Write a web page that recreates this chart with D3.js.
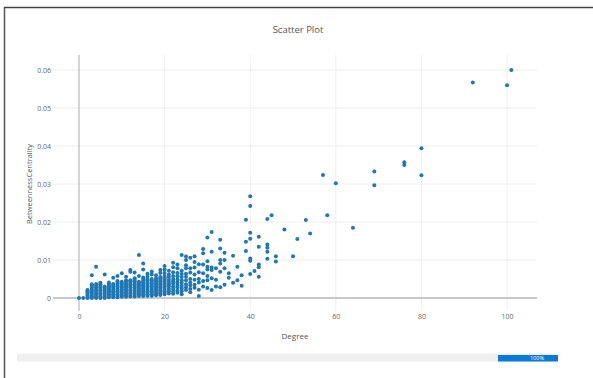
<!DOCTYPE html>
<html>
<head>
<meta charset="utf-8">
<script src="https://cdn.jsdelivr.net/npm/d3@7"></script>
<style>
  html, body { margin: 0; padding: 0; background: #fff; }
  svg { display: block; font-family: "Open Sans", "Noto Sans", sans-serif; }
</style>
</head>
<body>
<svg id="chart" width="593" height="378"></svg>
<script>
// Node degree values; each entry of centrality holds the betweenness
// centrality of every node that has that degree.
const degrees = [0, 1, 2, 3, 4, 5, 6, 7, 8, 9, 10, 11, 12, 13, 14, 15, 16, 17, 18, 19, 20,
  21, 22, 23, 24, 25, 26, 27, 28, 29, 30, 31, 32, 33, 34, 35, 36, 37, 38, 39, 40,
  41, 42, 44, 45, 46, 48, 50, 51, 53, 54, 57, 58, 60, 64, 69, 76, 80, 92, 100, 101];

const centrality = [
  [0],
  [0],
  [0, 0.0003, 0.0007, 0.0011, 0.0015, 0.0018, 0.0021],
  [0, 0.0004, 0.0008, 0.0012, 0.0016, 0.002, 0.0024, 0.0028, 0.0032, 0.0036, 0.006],
  [0, 0.0004, 0.0008, 0.0012, 0.0016, 0.002, 0.0024, 0.0028, 0.0032, 0.0037, 0.0082],
  [0, 0.0004, 0.0008, 0.0012, 0.0016, 0.002, 0.0024, 0.0028, 0.0032, 0.0036, 0.004],
  [0, 0.0004, 0.0008, 0.0012, 0.0016, 0.002, 0.0024, 0.0027, 0.003, 0.0062],
  [0.0002, 0.0006, 0.001, 0.0014, 0.0018, 0.0022, 0.0026, 0.003, 0.0034, 0.0038, 0.0041],
  [0.0002, 0.0006, 0.001, 0.0014, 0.0018, 0.0022, 0.0026, 0.003, 0.0034, 0.0037, 0.0053],
  [0.0002, 0.0006, 0.001, 0.0014, 0.0018, 0.0022, 0.0026, 0.003, 0.0034, 0.0038, 0.0042, 0.0045, 0.0058],
  [0.0003, 0.0007, 0.0011, 0.0015, 0.0019, 0.0023, 0.0027, 0.0031, 0.0035, 0.0039, 0.0043, 0.0065],
  [0.0003, 0.0007, 0.0011, 0.0015, 0.0019, 0.0023, 0.0027, 0.0031, 0.0035, 0.0039, 0.0043, 0.0047, 0.0056],
  [0.0004, 0.0008, 0.0012, 0.0016, 0.002, 0.0024, 0.0028, 0.0032, 0.0036, 0.004, 0.0044, 0.0047, 0.0069, 0.0074],
  [0.0004, 0.0008, 0.0012, 0.0016, 0.002, 0.0024, 0.0028, 0.0032, 0.0036, 0.004, 0.0044, 0.0048, 0.0052, 0.0067],
  [0.0005, 0.0009, 0.0013, 0.0017, 0.0021, 0.0025, 0.0029, 0.0033, 0.0037, 0.004, 0.0043, 0.0058, 0.0113],
  [0.0005, 0.0009, 0.0013, 0.0017, 0.0021, 0.0025, 0.0029, 0.0033, 0.0037, 0.0041, 0.0045, 0.005, 0.0054, 0.0075, 0.0091],
  [0.0006, 0.001, 0.0014, 0.0018, 0.0022, 0.0026, 0.003, 0.0034, 0.0038, 0.0042, 0.0046, 0.0049, 0.0056, 0.0064],
  [0.0006, 0.001, 0.0014, 0.0018, 0.0022, 0.0026, 0.003, 0.0034, 0.0038, 0.0042, 0.0046, 0.005, 0.0062, 0.007],
  [0.0007, 0.0011, 0.0015, 0.0019, 0.0023, 0.0027, 0.0031, 0.0035, 0.0039, 0.0043, 0.0047, 0.0052, 0.006],
  [0.0008, 0.0012, 0.0016, 0.002, 0.0024, 0.0028, 0.0032, 0.0036, 0.004, 0.0044, 0.0048, 0.0052, 0.0055, 0.0066, 0.0074],
  [0.001, 0.0014, 0.0018, 0.0022, 0.0026, 0.003, 0.0034, 0.0038, 0.0042, 0.0046, 0.005, 0.0054, 0.0058, 0.0066, 0.0075, 0.0084],
  [0.0012, 0.0018, 0.0024, 0.003, 0.0036, 0.0042, 0.0048, 0.0055, 0.0062, 0.0072],
  [0.0011, 0.0017, 0.0024, 0.003, 0.0038, 0.0044, 0.005, 0.0058, 0.0068, 0.0081, 0.0093],
  [0.0014, 0.002, 0.0028, 0.0034, 0.0041, 0.0049, 0.0057, 0.0066, 0.0078, 0.0088],
  [0.001, 0.0018, 0.0025, 0.0032, 0.004, 0.0047, 0.0055, 0.0063, 0.0072, 0.0113],
  [0.0021, 0.0028, 0.0036, 0.0047, 0.0056, 0.0064, 0.0078, 0.0086, 0.01, 0.0109],
  [0.0015, 0.0024, 0.0033, 0.0041, 0.005, 0.0067, 0.0078, 0.0106],
  [0.0027, 0.0035, 0.0048, 0.0062, 0.008, 0.0095, 0.011],
  [0.0005, 0.0022, 0.0041, 0.005, 0.0068, 0.0089],
  [0.003, 0.0045, 0.0065, 0.0088, 0.0118, 0.0129],
  [0.0026, 0.0047, 0.0058, 0.0075, 0.0082, 0.0097, 0.0159],
  [0.0021, 0.0052, 0.0074, 0.008, 0.0122, 0.0174],
  [0.003, 0.0048, 0.0078],
  [0.0028, 0.0069, 0.0091, 0.01, 0.013, 0.0153],
  [0.0035, 0.0078, 0.01, 0.0119],
  [0.0053, 0.0065],
  [0.004, 0.0111],
  [0.0047, 0.0082],
  [0.0032, 0.006],
  [0.0124, 0.0148, 0.0206],
  [0.0063, 0.0098, 0.0104, 0.0156, 0.0172, 0.0242, 0.0268],
  [0.0071],
  [0.0056, 0.0081, 0.0088, 0.0135, 0.0161],
  [0.0103, 0.0122, 0.0132, 0.0141, 0.0208],
  [0.0218],
  [0.0096, 0.011],
  [0.018],
  [0.011],
  [0.0155],
  [0.0205],
  [0.017],
  [0.0324],
  [0.0218],
  [0.0302],
  [0.0185],
  [0.0297, 0.0333],
  [0.035, 0.0357],
  [0.0323, 0.0394],
  [0.0567],
  [0.056],
  [0.06]
];

const xTicks = [0, 20, 40, 60, 80, 100];
const yTicks = [0, 0.01, 0.02, 0.03, 0.04, 0.05, 0.06];
const yTickLabels = ["0", "0.01", "0.02", "0.03", "0.04", "0.05", "0.06"];
const progress = 100;

const svg = d3.select("#chart");
const plot = { left: 53, right: 537, top: 55, bottom: 311 };

const x = d3.scaleLinear().domain([-6.07, 107.0]).range([plot.left, plot.right]);
const y = d3.scaleLinear().domain([-0.00342, 0.06395]).range([plot.bottom, plot.top]);

// Outer frame
svg.append("line").attr("x1", 4.5).attr("x2", 4.5).attr("y1", 7).attr("y2", 378)
  .attr("stroke", "#555").attr("stroke-width", 1.5);
svg.append("line").attr("x1", 4).attr("x2", 593).attr("y1", 7.5).attr("y2", 7.5)
  .attr("stroke", "#444").attr("stroke-width", 1.5);

// Title
svg.append("text").attr("x", 298).attr("y", 30).attr("text-anchor", "middle")
  .attr("dominant-baseline", "middle").attr("font-size", 9.5).attr("fill", "#555")
  .text("Scatter Plot");

// Grid lines
const grid = svg.append("g");
grid.selectAll(".gx").data(xTicks.filter(d => d !== 0)).join("line")
  .attr("x1", d => x(d)).attr("x2", d => x(d))
  .attr("y1", plot.top).attr("y2", plot.bottom)
  .attr("stroke", "#eee").attr("stroke-width", 1);
grid.selectAll(".gy").data(yTicks.filter(d => d !== 0)).join("line")
  .attr("x1", plot.left).attr("x2", plot.right)
  .attr("y1", d => y(d)).attr("y2", d => y(d))
  .attr("stroke", "#eee").attr("stroke-width", 1);

// Zero lines
svg.append("line").attr("x1", x(0)).attr("x2", x(0)).attr("y1", plot.top).attr("y2", plot.bottom)
  .attr("stroke", "#aaa").attr("stroke-width", 1);
svg.append("line").attr("x1", plot.left).attr("x2", plot.right).attr("y1", y(0)).attr("y2", y(0))
  .attr("stroke", "#c8c8c8").attr("stroke-width", 2);

// Axes (labels only, plotly style)
const xAxis = d3.axisBottom(x).tickValues(xTicks).tickSize(0).tickPadding(0);
const gx = svg.append("g").attr("transform", `translate(0,${plot.bottom + 3})`).call(xAxis);
gx.select(".domain").remove();
gx.selectAll("text").attr("font-size", 7).attr("fill", "#666").attr("font-family", "Open Sans")
  .attr("dy", "0.71em");

const yAxis = d3.axisLeft(y).tickValues(yTicks).tickSize(0).tickPadding(2)
  .tickFormat((d, i) => yTickLabels[i]);
const gy = svg.append("g").attr("transform", `translate(${plot.left},0)`).call(yAxis);
gy.select(".domain").remove();
gy.selectAll("text").attr("font-size", 7).attr("fill", "#666").attr("font-family", "Open Sans");

// Axis titles
svg.append("text").attr("x", 295).attr("y", 337).attr("text-anchor", "middle")
  .attr("dominant-baseline", "middle").attr("font-size", 8).attr("fill", "#555")
  .text("Degree");
svg.append("text").attr("transform", "translate(30,184) rotate(-90)")
  .attr("text-anchor", "middle").attr("dominant-baseline", "middle")
  .attr("font-size", 7.5).attr("fill", "#555").text("BetweennessCentrality");

// Points
const points = degrees.flatMap((d, i) => centrality[i].map(v => ({ d, v })));
svg.append("g").selectAll("circle").data(points).join("circle")
  .attr("cx", p => x(p.d)).attr("cy", p => y(p.v)).attr("r", 2)
  .attr("fill", "#1f77b4");

// Progress bar
const bar = d3.scaleLinear().domain([0, 100]).range([17, 558]);
svg.append("rect").attr("x", bar(0)).attr("y", 353.5).attr("width", bar(100) - bar(0)).attr("height", 8)
  .attr("fill", "#efefef");
svg.append("rect").attr("x", 498).attr("y", 355).attr("width", bar(progress) - 498).attr("height", 6.5)
  .attr("fill", "#0b7ad6");
svg.append("text").attr("x", 537).attr("y", 358.5).attr("text-anchor", "middle")
  .attr("dominant-baseline", "middle").attr("font-size", 5.5).attr("fill", "#fff")
  .text(progress + "%");
</script>
</body>
</html>
